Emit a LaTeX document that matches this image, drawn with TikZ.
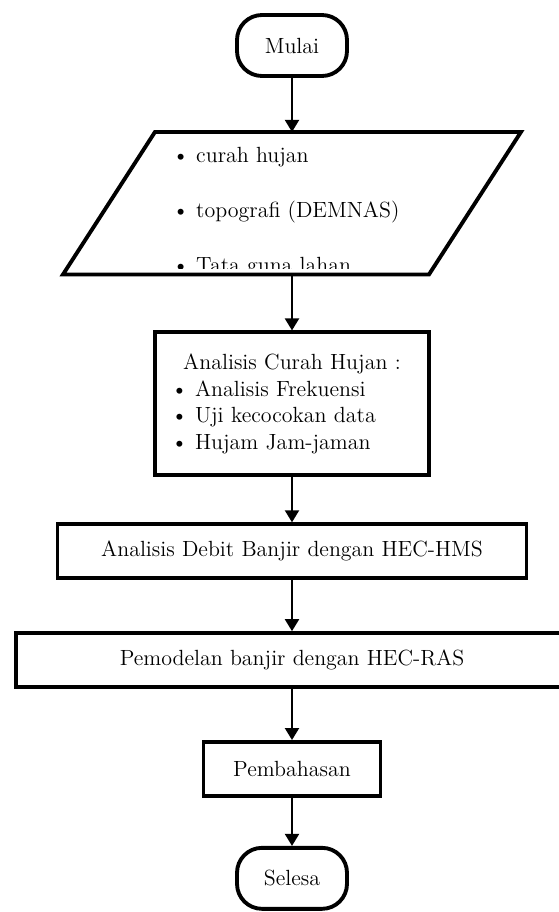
\documentclass[tikz,border=0pt]{standalone}
\usepackage{tikz}
\usetikzlibrary{positioning, arrows.meta}

\begin{document}
\begin{tikzpicture}[
				font=\fontsize{12.5pt}{15.3pt}\selectfont,
				node distance=1cm,
				terminal/.style={
					draw,
					line width=2.2pt,
					rounded corners=0.5cm,
					minimum width=2.2cm,
					minimum height=1.22cm
				},
				process/.style={
					draw,
					rectangle,
					line width=2.2pt,
					minimum height=1.08cm
				},
				arrow/.style={
					-{Triangle[width=0.28cm,length=0.24cm]},
					line width=1.2pt
				}
				]
				\useasboundingbox (0,0) rectangle (11.16,-18.24);
				\node[terminal] (mulai) at (5.84,-0.91) {Mulai};
				\node[rectangle, outer sep=0pt, minimum width=7.32cm, minimum height=2.85cm, below=1.08cm of mulai] (data) {};
				\begin{scope}
					\clip ([xshift=-1cm]data.north west) rectangle ([xshift=1cm, yshift=0.11cm]data.south east);
					\node[anchor=base west, inner sep=0pt] (d1) at ([xshift=1.26cm, yshift=-0.62cm]data.north west) {\textbullet\ curah hujan};
					\node[anchor=base west, inner sep=0pt] (d2) at ([xshift=1.26cm, yshift=-1.72cm]data.north west) {\textbullet\ topografi (DEMNAS)};
					\node[anchor=base west, inner sep=0pt] (d3) at ([xshift=1.26cm, yshift=-2.82cm]data.north west) {\textbullet\ Tata guna lahan};
				\end{scope}
				\draw[line width=2.2pt] ([xshift=0.92cm]data.north west) -- ([xshift=0.92cm]data.north east) -- ([xshift=-0.92cm]data.south east) -- ([xshift=-0.92cm]data.south west) -- cycle;
				\node[process, minimum width=5.48cm, minimum height=2.86cm, text width=4.84cm, inner xsep=0.32cm, align=left, below=1.12cm of data] (curah) {{\centering Analisis Curah Hujan :\par}\textbullet\ Analisis Frekuensi\\ \textbullet\ Uji kecocokan data\\ \textbullet\ Hujam Jam-jaman\par\vspace{0.24cm}};
				\node[process, minimum width=9.38cm, below=0.9cm of curah] (hms) {Analisis Debit Banjir dengan HEC-HMS};
				\node[process, minimum width=11.04cm, below=1.02cm of hms] (ras) {Pemodelan banjir dengan HEC-RAS};
				\node[process, minimum width=3.54cm, below=1.02cm of ras] (bahas) {Pembahasan};
				\node[terminal, below=0.96cm of bahas] (selesai) {Selesa};
				\draw[arrow] (mulai) -- (data);
				\draw[arrow] (data) -- (curah);
				\draw[arrow] (curah) -- (hms);
				\draw[arrow] (hms) -- (ras);
				\draw[arrow] (ras) -- (bahas);
				\draw[arrow] (bahas) -- (selesai);
			\end{tikzpicture}
\end{document}
